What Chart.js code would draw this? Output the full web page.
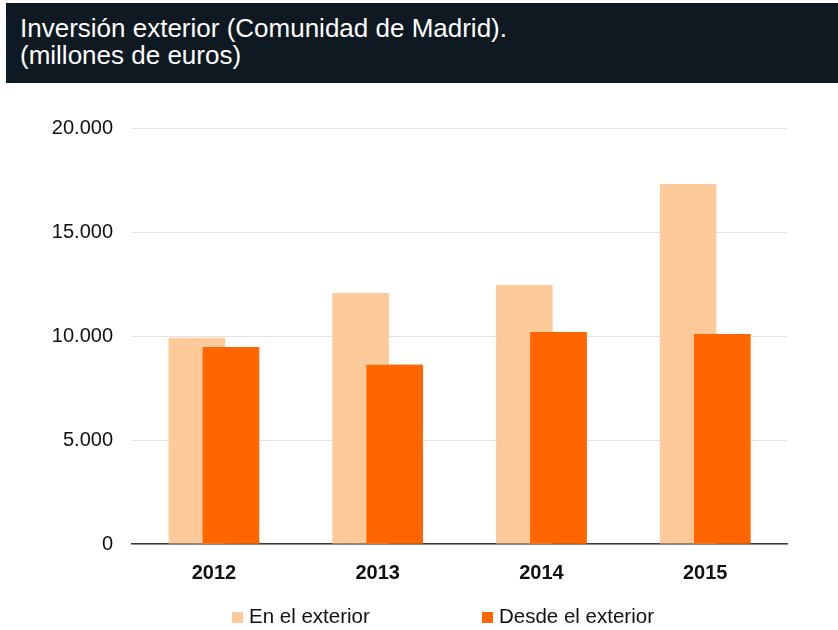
<!DOCTYPE html>
<html>
<head>
<meta charset="utf-8">
<script src="https://cdn.jsdelivr.net/npm/chart.js@4/dist/chart.umd.min.js"></script>
<style>
  html, body { margin: 0; padding: 0; background: #fff; }
  body { width: 838px; height: 630px; position: relative; overflow: hidden; font-family: "Liberation Sans", Arial, Helvetica, sans-serif; }
  .header {
    position: absolute; left: 6px; top: 3px; right: 0; height: 80px;
    background: #0f1921; color: #fff;
    font-size: 26px; line-height: 27px;
    padding: 12px 0 0 14px; box-sizing: border-box;
  }
  #wrap { position: absolute; left: 0; top: 0; width: 838px; height: 630px; }
  .legend { position: absolute; top: 604px; left: 0; width: 838px; height: 26px; font-size: 20.5px; color: #111; }
  .legend .item { position: absolute; top: 0; display: flex; align-items: center; white-space: nowrap; }
  .legend .box { width: 11px; height: 11px; margin-right: 6px; margin-top: 2px; }
</style>
</head>
<body>
<div id="wrap"><canvas id="inversionChart" width="838" height="630"></canvas></div>
<div class="header">Inversión exterior (Comunidad de Madrid).<br>(millones de euros)</div>
<div class="legend" id="legend"></div>

<script>
// Datos (millones de euros)
const years = ['2012', '2013', '2014', '2015'];
const enElExterior = [9920, 12070, 12450, 17310];
const desdeElExterior = [9470, 8620, 10190, 10100];
const yTicks = [0, 5000, 10000, 15000, 20000];

const seriesLabels = ['En el exterior', 'Desde el exterior'];
const seriesColors = ['#ffca99', '#ff6600'];

function formatThousands(v) {
  return String(v).replace(/\B(?=(\d{3})+(?!\d))/g, '.');
}

// Chart.js pinta el primer dataset encima; volvemos a pintar el segundo
// para que la barra oscura quede delante de la clara, como en el original
const frontBars = {
  id: 'frontBars',
  afterDatasetsDraw: function (chart) {
    const meta = chart.getDatasetMeta(1);
    if (meta && !meta.hidden) {
      meta.controller.draw();
    }
  }
};

const ctx = document.getElementById('inversionChart');

new Chart(ctx, {
  type: 'bar',
  data: {
    labels: years,
    datasets: [
      {
        label: seriesLabels[0],
        data: enElExterior,
        backgroundColor: seriesColors[0],
        borderWidth: 0,
        categoryPercentage: 0.416,
        barPercentage: 1.66
      },
      {
        label: seriesLabels[1],
        data: desdeElExterior,
        backgroundColor: seriesColors[1],
        borderWidth: 0,
        categoryPercentage: 0.416,
        barPercentage: 1.66
      }
    ]
  },
  options: {
    responsive: false,
    animation: false,
    layout: {
      padding: { top: 128, right: 51, bottom: 36, left: 0 }
    },
    scales: {
      x: {
        grid: { display: false, drawTicks: false },
        border: { display: true, color: '#3a3a3a', width: 1.5 },
        ticks: {
          color: '#111',
          padding: 17,
          font: { family: '"Liberation Sans", Arial, sans-serif', size: 20, weight: 'bold' }
        },
        afterFit: function (scale) { scale.height = 50; }
      },
      y: {
        min: 0,
        max: 20000,
        afterBuildTicks: function (scale) {
          scale.ticks = yTicks.map(function (v) { return { value: v }; });
        },
        grid: { color: '#e3e3e3', lineWidth: 1, drawTicks: false },
        border: { display: false },
        ticks: {
          color: '#111',
          padding: 19,
          font: { family: '"Liberation Sans", Arial, sans-serif', size: 20 },
          callback: function (value) { return formatThousands(value); }
        },
        afterFit: function (scale) { scale.width = 132; }
      }
    },
    plugins: {
      legend: { display: false },
      tooltip: { enabled: false }
    }
  },
  plugins: [frontBars]
});

// Leyenda en HTML (separación amplia entre elementos, como en el original)
const legendEl = document.getElementById('legend');
const legendLeft = [232, 482];
seriesLabels.forEach(function (label, i) {
  const item = document.createElement('div');
  item.className = 'item';
  item.style.left = legendLeft[i] + 'px';
  const box = document.createElement('span');
  box.className = 'box';
  box.style.background = seriesColors[i];
  const txt = document.createElement('span');
  txt.textContent = label;
  item.appendChild(box);
  item.appendChild(txt);
  legendEl.appendChild(item);
});
</script>
</body>
</html>
